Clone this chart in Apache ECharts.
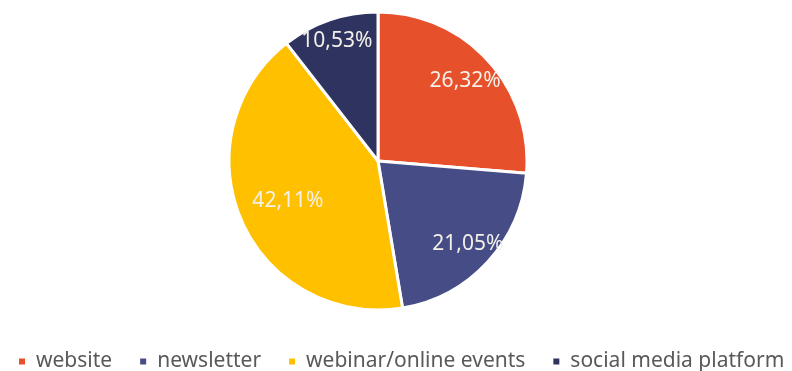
<!DOCTYPE html>
<html>
<head>
<meta charset="utf-8">
<script src="https://cdn.jsdelivr.net/npm/echarts@6/dist/echarts.min.js"></script>
<style>
  html, body { margin: 0; padding: 0; background: #ffffff; }
  #chart { width: 792px; height: 371px; }
</style>
</head>
<body>
<div id="chart"></div>
<script>
// Share of channels (percent)
const categories = ['website', 'newsletter', 'webinar/online events', 'social media platform'];
const shares = [26.32, 21.05, 42.11, 10.53];
const colors = ['#E6502A', '#464C85', '#FFC000', '#2E3360'];

const CENTER = [378, 161];
const R = 149;
const FONT = 'Noto Sans';

const pieData = categories.map((name, i) => ({
  name,
  value: shares[i],
  itemStyle: { color: colors[i] }
}));

const fmt = p => p.value.toFixed(2).replace('.', ',') + '%';

// Transparent ring drawn over the pie; its "inside" labels sit halfway
// between the inner radius and the rim, so the inner radius sets how far
// out each label lands.
function labelRing(innerR, names) {
  return {
    type: 'pie',
    silent: true,
    center: CENTER,
    radius: [innerR, R],
    startAngle: 90,
    clockwise: true,
    z: 5,
    itemStyle: { color: 'rgba(0,0,0,0)', borderWidth: 0 },
    emphasis: { disabled: true },
    labelLine: { show: false },
    label: {
      show: true,
      position: 'inside',
      color: '#F4F1EA',
      fontFamily: FONT,
      fontSize: 21,
      formatter: p => names.includes(p.name) ? fmt(p) : ''
    },
    data: categories.map((name, i) => ({ name, value: shares[i] }))
  };
}

const chart = echarts.init(document.getElementById('chart'), null, { renderer: 'canvas' });
chart.setOption({
  animation: false,
  backgroundColor: '#ffffff',
  legend: {
    left: 12,
    top: 346,
    icon: 'rect',
    itemWidth: 8,
    itemHeight: 8,
    itemGap: 26,
    selectedMode: false,
    textStyle: {
      color: '#595959',
      fontFamily: FONT,
      fontSize: 21,
      padding: [0, 0, 0, 5]
    },
    data: categories
  },
  series: [
    {
      type: 'pie',
      center: CENTER,
      radius: [0, R],
      startAngle: 90,
      clockwise: true,
      silent: true,
      itemStyle: { borderColor: '#ffffff', borderWidth: 3 },
      label: { show: false },
      labelLine: { show: false },
      data: pieData
    },
    labelRing(R * 0.66, ['social media platform']),
    labelRing(R * 0.55, ['website']),
    labelRing(R * 0.6, ['newsletter']),
    labelRing(R * 0.28, ['webinar/online events'])
  ]
});
</script>
</body>
</html>
